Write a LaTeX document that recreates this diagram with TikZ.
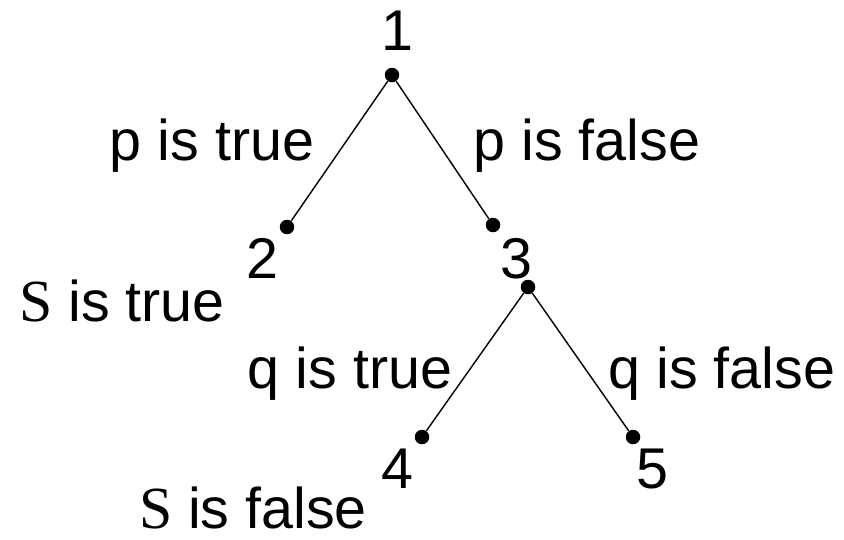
\documentclass[tikz,border=0pt]{standalone}
\usepackage{fontspec}
\setmainfont{Liberation Sans}
\newfontfamily\serifS{Liberation Serif}
\tikzset{
  dot/.style={circle,fill,inner sep=0pt,minimum size=0.29cm},
  lbl/.style={anchor=base,inner sep=0pt,font=\fontsize{32.7}{38}\selectfont},
  edge/.style={line width=0.8pt}
}
\begin{document}
\begin{tikzpicture}[x=0.02cm,y=-0.02cm]
    \useasboundingbox (0,0) rectangle (844,539);
    % tree points
    \node [dot] (n1) at (392,75) {};
    \node [dot] (n2) at (287,227) {};
    \node [dot] (n3) at (493,225) {};
    \node [dot] (n3b) at (528,287) {};
    \node [dot] (n4) at (422,437) {};
    \node [dot] (n5) at (633,437) {};
    \draw [edge] (n1) -- (n2);
    \draw [edge] (n1) -- (n3);
    \draw [edge] (n3b) -- (n4);
    \draw [edge] (n3b) -- (n5);
    % numbers
    \node [lbl] (t1) at (397,50) {1};
    \node [lbl] (t2) at (262,278) {2};
    \node [lbl] (t3) at (516,278) {3};
    \node [lbl] (t4) at (397,488) {4};
    \node [lbl] (t5) at (652,488) {5};
    % branch texts
    \node [lbl] (pt) at (212,160) {p is true};
    \node [lbl] (pf) at (587,160) {p is false};
    \node [lbl] (qt) at (350,388) {q is true};
    \node [lbl] (qf) at (722,388) {q is false};
    \node [lbl] (st) at (122,321) {{\serifS\fontsize{34}{38}\selectfont S} is true};
    \node [lbl] (sf) at (253,528) {{\serifS\fontsize{34}{38}\selectfont S} is false};
\end{tikzpicture}
\end{document}
